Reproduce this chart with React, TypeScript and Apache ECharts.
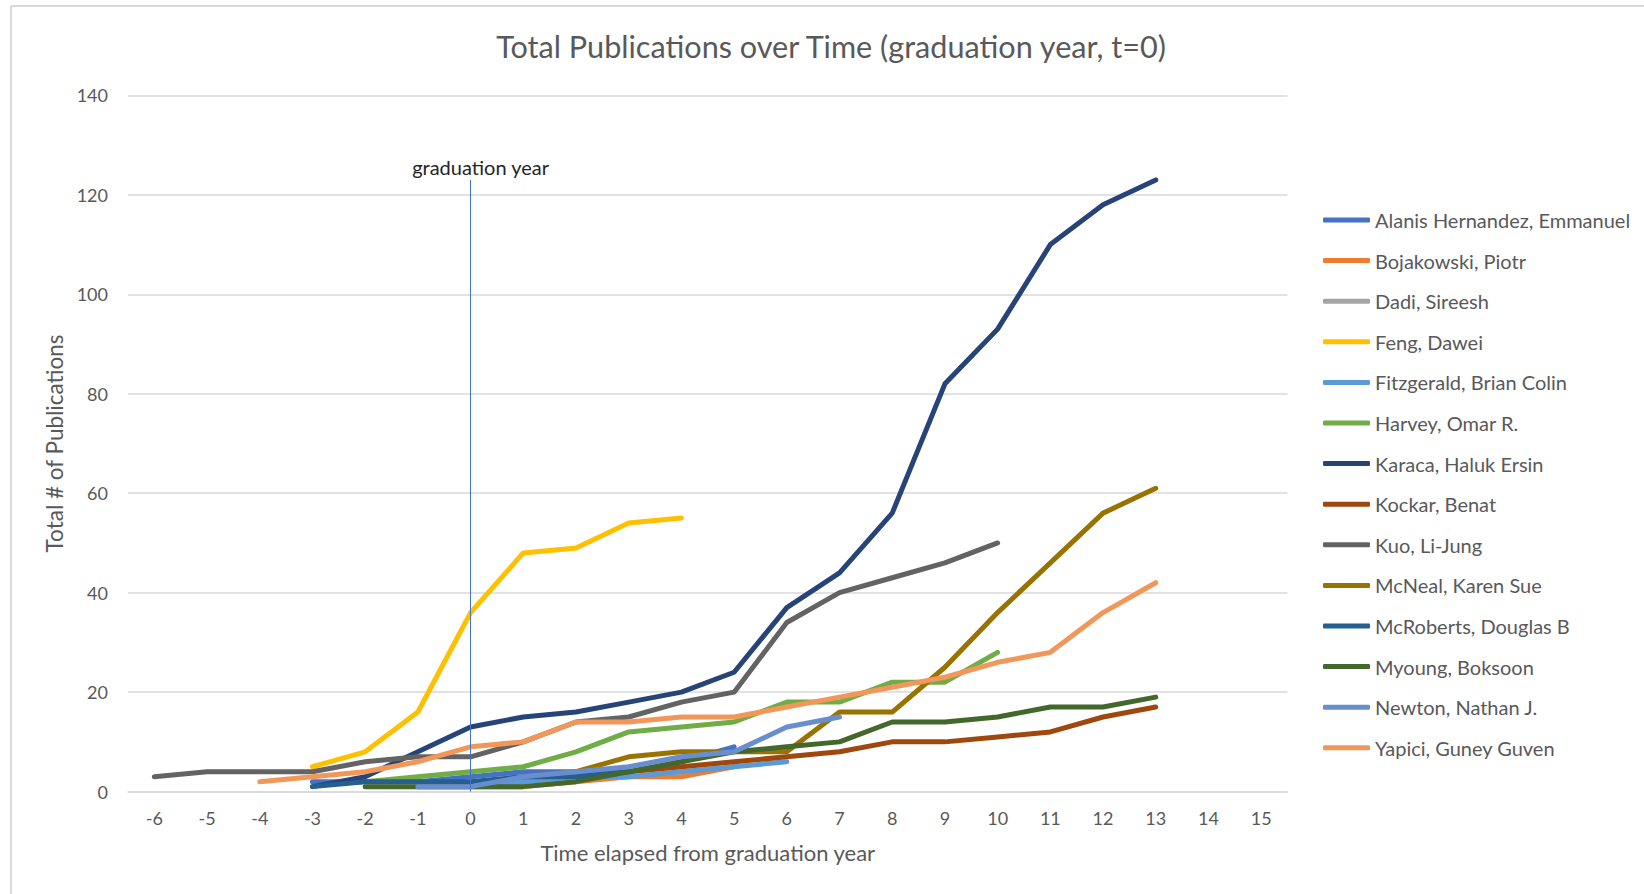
import React, { useEffect, useRef } from "react";
import * as echarts from "echarts";

const categories = ["-6","-5","-4","-3","-2","-1","0","1","2","3","4","5","6","7","8","9","10","11","12","13","14","15"];
const n = null;
// values indexed by categories (-6 .. 15)
const alanis     = [n,n,n,2,2,2,3,4,4,4,6,9,n,n,n,n,n,n,n,n,n,n];
const bojakowski = [n,n,n,n,n,n,1,1,2,3,3,5,n,n,n,n,n,n,n,n,n,n];
const dadi       = [n,n,n,n,n,n,1,2,3,3,n,n,n,n,n,n,n,n,n,n,n,n];
const feng       = [n,n,n,5,8,16,36,48,49,54,55,n,n,n,n,n,n,n,n,n,n,n];
const fitzgerald = [n,n,n,n,n,1,1,2,3,3,4,5,6,n,n,n,n,n,n,n,n,n];
const harvey     = [n,n,n,n,2,3,4,5,8,12,13,14,18,18,22,22,28,n,n,n,n,n];
const karaca     = [n,n,n,1,3,8,13,15,16,18,20,24,37,44,56,82,93,110,118,123,n,n];
const kockar     = [n,n,n,n,n,n,n,n,n,4,5,6,7,8,10,10,11,12,15,17,n,n];
const kuo        = [3,4,4,4,6,7,7,10,14,15,18,20,34,40,43,46,50,n,n,n,n,n];
const mcneal     = [n,n,n,n,n,n,n,3,4,7,8,8,8,16,16,25,36,46,56,61,n,n];
const mcroberts  = [n,n,n,1,2,2,2,3,3,4,n,n,n,n,n,n,n,n,n,n,n,n];
const myoung     = [n,n,n,n,1,1,1,1,2,4,6,8,9,10,14,14,15,17,17,19,n,n];
const newton     = [n,n,n,n,n,1,1,3,4,5,7,8,13,15,n,n,n,n,n,n,n,n];
const yapici     = [n,n,2,3,4,6,9,10,14,14,15,15,17,19,21,23,26,28,36,42,n,n];

const seriesNames = [
  "Alanis Hernandez, Emmanuel", "Bojakowski, Piotr", "Dadi, Sireesh", "Feng, Dawei",
  "Fitzgerald, Brian Colin", "Harvey, Omar R.", "Karaca, Haluk Ersin", "Kockar, Benat",
  "Kuo, Li-Jung", "McNeal, Karen Sue", "McRoberts, Douglas B", "Myoung, Boksoon",
  "Newton, Nathan J.", "Yapici, Guney Guven",
];
const seriesData = [alanis, bojakowski, dadi, feng, fitzgerald, harvey, karaca, kockar, kuo, mcneal, mcroberts, myoung, newton, yapici];
const seriesColors = [
  "#4472C4", "#ED7D31", "#A5A5A5", "#FFC000", "#5B9BD5", "#70AD47", "#264478",
  "#9E480E", "#636363", "#997300", "#255E91", "#43682B", "#698ED0", "#F1975A",
];

const graduationCategory = "0";
const graduationLineTop = 123;

const FONT = "Lato, 'Noto Sans', sans-serif";

export default function App() {
  const ref = useRef<HTMLDivElement>(null);
  useEffect(() => {
    if (!ref.current) return;
    const chart = echarts.init(ref.current, null, { renderer: "svg" });
    const series: any[] = seriesNames.map((name, i) => ({
      name,
      type: "line",
      data: seriesData[i],
      showSymbol: false,
      symbol: "none",
      color: seriesColors[i],
      lineStyle: { width: 5, color: seriesColors[i], cap: "round", join: "round" },
      emphasis: { disabled: true },
      z: 2,
    }));
    series[0].markLine = {
      silent: true,
      symbol: ["none", "none"],
      animation: false,
      lineStyle: { color: "#4472C4", width: 1, type: "solid" },
      label: {
        show: true,
        position: "start",
        formatter: "graduation year",
        color: "#262626",
        fontFamily: FONT,
        fontSize: 20,
        distance: 3,
        offset: [10, 0],
      },
      data: [[{ coord: [graduationCategory, graduationLineTop] }, { coord: [graduationCategory, 0] }]],
    };
    chart.setOption({
      animation: false,
      backgroundColor: "#ffffff",
      textStyle: { fontFamily: FONT },
      title: {
        text: "Total Publications over Time (graduation year, t=0)",
        left: 826,
        textAlign: "center",
        top: 26,
        textStyle: { fontFamily: FONT, fontSize: 30.6, fontWeight: "normal", color: "#595959" },
      },
      grid: { left: 128, right: 356.5, top: 95.4, bottom: 102.4, containLabel: false },
      legend: {
        orient: "vertical",
        left: 1323,
        top: 210,
        padding: 0,
        itemWidth: 47,
        itemHeight: 5,
        itemGap: 20.6,
        icon: "roundRect",
        textStyle: { fontFamily: FONT, fontSize: 20, color: "#595959", lineHeight: 20 },
        data: seriesNames,
      },
      xAxis: {
        type: "category",
        data: categories,
        boundaryGap: true,
        axisLine: { show: true, lineStyle: { color: "#D9D9D9", width: 1.5 } },
        axisTick: { show: false },
        axisLabel: { color: "#595959", fontSize: 18, fontFamily: FONT, margin: 17, interval: 0 },
        name: "Time elapsed from graduation year",
        nameLocation: "middle",
        nameGap: 50,
        nameTextStyle: { color: "#595959", fontSize: 22, fontFamily: FONT },
      },
      yAxis: {
        type: "value",
        min: 0,
        max: 140,
        interval: 20,
        axisLine: { show: false },
        axisTick: { show: false },
        splitLine: { lineStyle: { color: "#D9D9D9", width: 1.5 } },
        axisLabel: { color: "#595959", fontSize: 18, fontFamily: FONT, margin: 20 },
        name: "Total # of Publications",
        nameLocation: "middle",
        nameGap: 62,
        nameRotate: 90,
        nameTextStyle: { color: "#595959", fontSize: 22.5, fontFamily: FONT },
      },
      graphic: [
        { type: "line", shape: { x1: 11, y1: 6, x2: 1644, y2: 6 }, style: { stroke: "#D9D9D9", lineWidth: 2 } },
        { type: "line", shape: { x1: 11, y1: 6, x2: 11, y2: 894 }, style: { stroke: "#D9D9D9", lineWidth: 2 } },
      ],
      series,
    });
    return () => chart.dispose();
  }, []);
  return <div ref={ref} style={{ position: "fixed", left: 0, top: 0, width: 1644, height: 894 }} />;
}
